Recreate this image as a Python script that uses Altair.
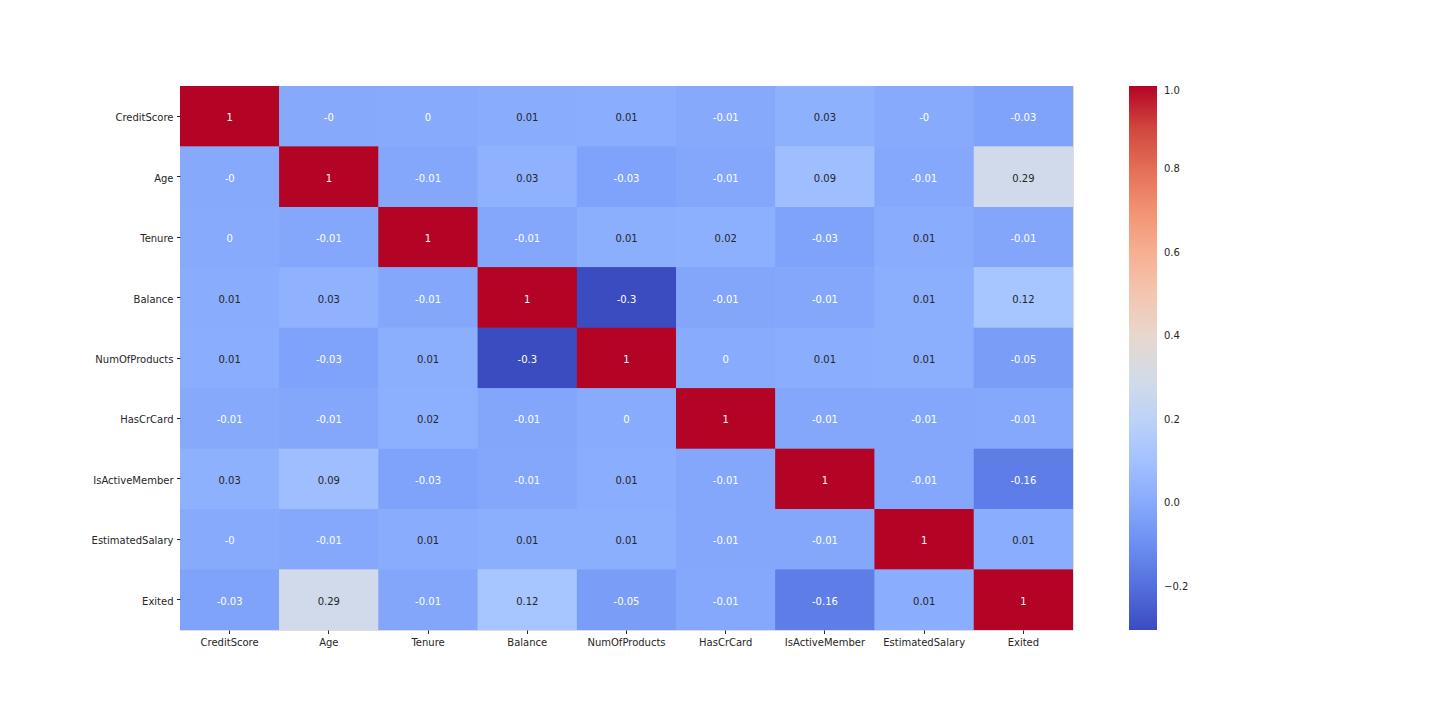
import altair as alt
import pandas as pd

features = ["CreditScore", "Age", "Tenure", "Balance", "NumOfProducts",
            "HasCrCard", "IsActiveMember", "EstimatedSalary", "Exited"]

# upper-triangle correlations (row i, col j>i), read/
r_creditscore = [-0.004, 0.0008, 0.0063, 0.0122, -0.0055, 0.0257, -0.0014, -0.0271]
r_age = [-0.010, 0.0283, -0.0307, -0.0117, 0.0855, -0.0072, 0.2853]
r_tenure = [-0.0123, 0.0134, 0.0226, -0.0284, 0.0078, -0.0140]
r_balance = [-0.3042, -0.0149, -0.0101, 0.0128, 0.1185]
r_numprod = [0.0032, 0.0096, 0.0142, -0.0478]
r_hascr = [-0.0119, -0.0099, -0.0071]
r_active = [-0.0114, -0.1561]
r_salary = [0.0121]

upper = [r_creditscore, r_age, r_tenure, r_balance, r_numprod, r_hascr, r_active, r_salary, []]

# coolwarm colormap stops
coolwarm = ["#3b4cc0", "#445acc", "#4d68d7", "#5775e1", "#6282ea", "#6c8ef1",
            "#779af7", "#82a5fb", "#8db0fe", "#98b9ff", "#a3c2ff", "#aec9fd",
            "#b8d0f9", "#c2d5f4", "#ccd9ee", "#d5dbe5", "#dddddd", "#e5d8d1",
            "#ecd3c5", "#f1ccb9", "#f5c4ad", "#f7bba0", "#f7b194", "#f7a687",
            "#f49a7b", "#f18d6f", "#ec7f63", "#e57058", "#de604d", "#d55042",
            "#cb3e38", "#c0282f", "#b40426"]

vmin, vmax = -0.3042, 1.0

n = len(features)
M = [[1.0] * n for _ in range(n)]
for i in range(n):
    for k, v in enumerate(upper[i]):
        j = i + 1 + k
        M[i][j] = v
        M[j][i] = v

rows = []
for i in range(n):
    for j in range(n):
        v = M[i][j]
        lab = f"{round(v, 2):g}"
        light = 1 if (v < 0.005 or v > 0.5) else 0
        rows.append({"row": features[i], "col": features[j], "value": v,
                     "label": lab, "light": light})
df = pd.DataFrame(rows)

dom = [vmin + (vmax - vmin) * k / (len(coolwarm) - 1) for k in range(len(coolwarm))]

font = "DejaVu Sans"
W, H = 893, 544

x_enc = alt.X("col:N", sort=features, title=None,
              scale=alt.Scale(paddingInner=0, paddingOuter=0),
              axis=alt.Axis(labelAngle=0, domain=False, ticks=True, tickSize=3.5,
                            labelPadding=3.5, labelFontSize=10, labelFont=font,
                            labelColor="#262626", tickColor="#262626", grid=False))
y_enc = alt.Y("row:N", sort=features, title=None,
              scale=alt.Scale(paddingInner=0, paddingOuter=0),
              axis=alt.Axis(domain=False, ticks=True, tickSize=3.5, labelOffset=2,
                            labelPadding=3.5, labelFontSize=10, labelFont=font,
                            labelColor="#262626", tickColor="#262626", grid=False))

color_enc = alt.Color("value:Q",
                      scale=alt.Scale(domain=dom, range=coolwarm, interpolate="rgb"),
                      legend=alt.Legend(title=None, orient="none",
                                        legendX=949, legendY=0,
                                        direction="vertical", gradientLength=544,
                                        gradientThickness=28, gradientStrokeWidth=0,
                                        values=[-0.2, 0.0, 0.2, 0.4, 0.6, 0.8, 1.0],
                                        format=".1f", labelFontSize=10, labelFont=font,
                                        labelColor="#262626", labelOffset=7,
                                        labelBaseline="middle", labelOverlap=False))

rect = alt.Chart(df).mark_rect().encode(x=x_enc, y=y_enc, color=color_enc)

text = alt.Chart(df).mark_text(font=font, fontSize=10, dy=2).encode(
    x=alt.X("col:N", sort=features),
    y=alt.Y("row:N", sort=features),
    text="label:N",
    color=alt.condition(alt.datum.light == 1, alt.value("#ffffff"), alt.value("#262626")),
)

# rect layered three times to hide anti-aliasing seams between cells
chart = alt.layer(rect, rect, rect, text).properties(
    width=W, height=H,
    autosize=alt.AutoSizeParams(type="none"),
    padding={"left": 172, "top": 78, "right": 300, "bottom": 80},
).configure_view(strokeWidth=0).configure(background="white")

chart.save("out.html", embed_options={"renderer": "svg", "actions": False})
